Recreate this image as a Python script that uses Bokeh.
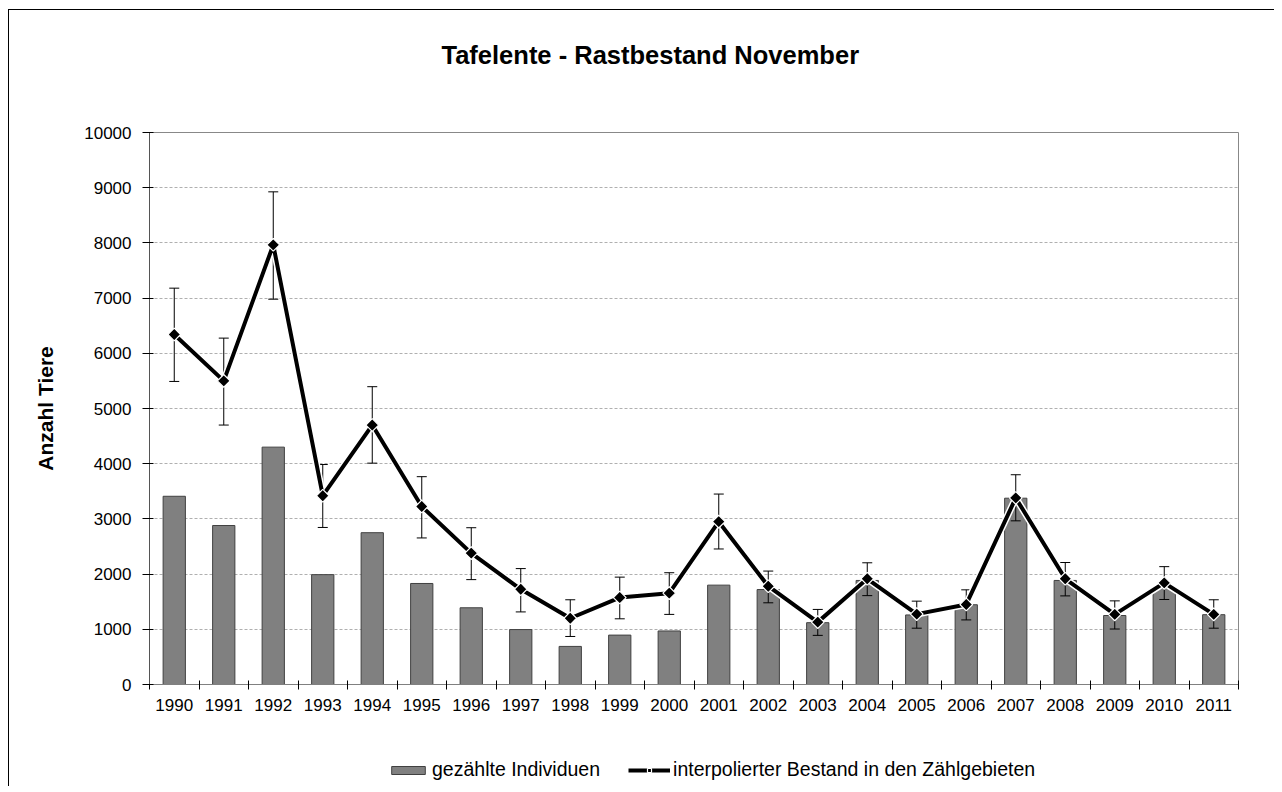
from bokeh.plotting import figure
from bokeh.layouts import column
from bokeh.models import (Range1d, FixedTicker, Legend, LegendItem, ColumnDataSource, Label)
from bokeh.embed import file_html
from bokeh.resources import INLINE
import numpy as np

years = [1990, 1991, 1992, 1993, 1994, 1995, 1996, 1997, 1998, 1999, 2000,
         2001, 2002, 2003, 2004, 2005, 2006, 2007, 2008, 2009, 2010, 2011]
counted = [3410, 2880, 4300, 1990, 2750, 1830, 1390, 995, 690, 895, 970,
           1800, 1720, 1120, 1885, 1260, 1445, 3375, 1885, 1250, 1750, 1265]
interp = [6340, 5500, 7965, 3420, 4700, 3225, 2380, 1725, 1200, 1575, 1655,
          2950, 1780, 1130, 1915, 1275, 1450, 3380, 1915, 1270, 1840, 1270]
upper = [7180, 6275, 8925, 3985, 5395, 3765, 2840, 2100, 1535, 1945, 2025,
         3450, 2055, 1360, 2205, 1510, 1715, 3800, 2210, 1515, 2135, 1535]
lower = [5490, 4700, 6980, 2845, 4010, 2655, 1900, 1315, 870, 1190, 1270,
         2455, 1480, 890, 1610, 1020, 1170, 2965, 1605, 1005, 1540, 1020]
y_ticks = [0, 1000, 2000, 3000, 4000, 5000, 6000, 7000, 8000, 9000, 10000]
title_text = "Tafelente - Rastbestand November"
legend_labels = ["gezählte Individuen", "interpolierter Bestand in den Zählgebieten"]

FONT = "Liberation Sans"
BAR_FILL = "#808080"
BAR_LINE = "#404040"
W = 1265
BL, BR = 140, 36


def strip(height):
    f = figure(width=W, height=height, output_backend="svg", toolbar_location=None,
               x_range=Range1d(0, 1), y_range=Range1d(0, 1),
               x_axis_location=None, y_axis_location=None,
               min_border_left=BL, min_border_right=BR, min_border_top=0, min_border_bottom=0)
    f.xgrid.grid_line_color = None
    f.ygrid.grid_line_color = None
    f.outline_line_color = None
    return f


# ---- title strip ----
ts = strip(110)
ts.add_layout(Label(x=0, y=66, x_units="screen", y_units="screen", text=title_text,
                    text_font=FONT, text_font_size="25.5px", text_font_style="bold",
                    text_color="#000000", text_baseline="middle", text_align="left",
                    x_offset=292))

# ---- main chart ----
src = ColumnDataSource(dict(x=years, counted=counted, interp=interp, upper=upper, lower=lower))

p = figure(width=W, height=604, output_backend="svg", toolbar_location=None,
           x_range=Range1d(years[0] - 0.5, years[-1] + 0.5),
           y_range=Range1d(y_ticks[0], y_ticks[-1]),
           min_border_left=BL, min_border_right=BR, min_border_top=12, min_border_bottom=40)

p.vbar(x="x", top="counted", width=0.45, source=src,
       fill_color=BAR_FILL, line_color=BAR_LINE, line_width=1)

# error bars
p.segment(x0="x", y0="lower", x1="x", y1="upper", source=src, line_color="#000000", line_width=1)
p.scatter(x="x", y="upper", source=src, marker="dash", size=10, line_color="#000000", line_width=1)
p.scatter(x="x", y="lower", source=src, marker="dash", size=10, line_color="#000000", line_width=1)

# line with white halo
p.line(x="x", y="interp", source=src, line_color="#ffffff", line_width=7, line_join="round")
p.line(x="x", y="interp", source=src, line_color="#000000", line_width=4, line_join="round")
p.scatter(x="x", y="interp", source=src, marker="square", angle=np.pi / 4, size=9,
          fill_color="#000000", line_color="#ffffff", line_width=1.2)

p.xaxis.ticker = FixedTicker(ticks=years, minor_ticks=[y - 0.5 for y in years] + [years[-1] + 0.5])
p.xaxis.major_label_overrides = {y: str(y) for y in years}
p.xaxis.major_tick_line_color = None
p.xaxis.major_tick_out = 0
p.xaxis.major_tick_in = 0
p.xaxis.minor_tick_line_color = "#000000"
p.xaxis.minor_tick_out = 5
p.xaxis.minor_tick_in = 4
p.xaxis.axis_line_color = "#808080"
p.xaxis.major_label_standoff = 9

p.yaxis.ticker = FixedTicker(ticks=y_ticks)
p.yaxis.minor_tick_line_color = None
p.yaxis.major_tick_out = 7
p.yaxis.major_tick_in = 4
p.yaxis.major_tick_line_color = "#000000"
p.yaxis.axis_line_color = "#555555"
p.yaxis.major_label_standoff = 11
p.yaxis.axis_label = "Anzahl Tiere"
p.yaxis.axis_label_text_font = FONT
p.yaxis.axis_label_text_font_size = "21px"
p.yaxis.axis_label_text_font_style = "bold"
p.yaxis.axis_label_standoff = 24
p.yaxis.axis_label_text_color = "#000000"

for ax in (p.xaxis, p.yaxis):
    ax.major_label_text_font = FONT
    ax.major_label_text_font_size = "17px"
    ax.major_label_text_color = "#000000"

p.xgrid.grid_line_color = None
p.ygrid.ticker = FixedTicker(ticks=y_ticks[1:-1])
p.ygrid.grid_line_color = "#b0b0b0"
p.ygrid.grid_line_dash = "3 2"
p.ygrid.grid_line_width = 1

p.outline_line_color = "#888888"
p.outline_line_width = 1

# ---- legend strip ----
lg = strip(62)
# legend proxies: placed entirely outside the strip's visible range
proxy = ColumnDataSource(dict(x=[-10, -11], y=[-10, -11], b=[-20, -20]))
r_bar = lg.vbar(x="x", top="y", bottom="b", width=0.45, source=proxy,
                fill_color=BAR_FILL, line_color=BAR_LINE, line_width=1)
r_ln = lg.line(x="x", y="y", source=proxy, line_color="#000000", line_width=4)
r_mk = lg.scatter(x="x", y="y", source=proxy, marker="square", angle=np.pi / 4, size=9,
                  fill_color="#000000", line_color="#ffffff", line_width=1.2)
legend = Legend(items=[LegendItem(label=legend_labels[0], renderers=[r_bar]),
                       LegendItem(label=legend_labels[1], renderers=[r_ln, r_mk])],
                orientation="horizontal", location=(238, 5),
                label_text_font=FONT, label_text_font_size="19.5px", label_text_color="#000000",
                glyph_width=42, glyph_height=10, label_standoff=3, spacing=28,
                border_line_alpha=0, background_fill_alpha=0, padding=0, margin=0)
lg.add_layout(legend, "center")

layout = column(ts, p, lg, spacing=0)
layout.styles = {"margin-left": "8px", "margin-top": "9px",
                 "border-left": "1px solid #000", "border-top": "1px solid #000"}

open("out.html", "w").write(file_html(layout, INLINE))
